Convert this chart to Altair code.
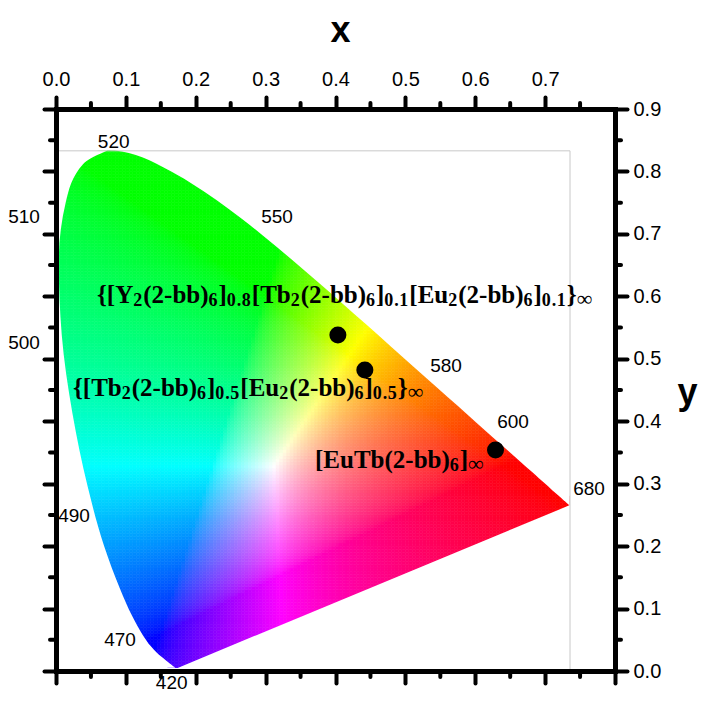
import altair as alt
import numpy as np
import pandas as pd

# ---------------- data ----------------
# CIE 1931 2-degree spectral locus (wavelength nm, x, y)
wl = list(range(380, 705, 5))
loc_x = [0.1741, 0.1740, 0.1738, 0.1736, 0.1733, 0.1730, 0.1726, 0.1721, 0.1714, 0.1703,
         0.1689, 0.1669, 0.1644, 0.1611, 0.1566, 0.1510, 0.1440, 0.1355, 0.1241, 0.1096,
         0.0913, 0.0687, 0.0454, 0.0235, 0.0082, 0.0039, 0.0139, 0.0389, 0.0743, 0.1142,
         0.1547, 0.1929, 0.2296, 0.2658, 0.3016, 0.3373, 0.3731, 0.4087, 0.4441, 0.4788,
         0.5125, 0.5448, 0.5752, 0.6029, 0.6270, 0.6482, 0.6658, 0.6801, 0.6915, 0.7006,
         0.7079, 0.7140, 0.7190, 0.7230, 0.7260, 0.7283, 0.7300, 0.7311, 0.7320, 0.7327,
         0.7334, 0.7340, 0.7344, 0.7346, 0.7347]
loc_y = [0.0050, 0.0050, 0.0049, 0.0049, 0.0048, 0.0048, 0.0048, 0.0048, 0.0051, 0.0058,
         0.0069, 0.0086, 0.0109, 0.0138, 0.0177, 0.0227, 0.0297, 0.0399, 0.0578, 0.0868,
         0.1327, 0.2007, 0.2950, 0.4127, 0.5384, 0.6548, 0.7502, 0.8120, 0.8338, 0.8262,
         0.8059, 0.7816, 0.7543, 0.7243, 0.6923, 0.6589, 0.6245, 0.5896, 0.5547, 0.5202,
         0.4866, 0.4544, 0.4242, 0.3965, 0.3725, 0.3514, 0.3340, 0.3197, 0.3083, 0.2993,
         0.2920, 0.2859, 0.2809, 0.2770, 0.2740, 0.2717, 0.2700, 0.2689, 0.2680, 0.2673,
         0.2666, 0.2660, 0.2656, 0.2654, 0.2653]

# measured colour coordinates of the three samples
pt_x = [0.4034, 0.442, 0.629]
pt_y = [0.538, 0.482, 0.354]

# wavelength annotations
wl_text = ["520", "510", "550", "500", "580", "600", "680", "490", "470", "420"]
wl_tx = [0.0826, -0.0458, 0.3163, -0.0458, 0.5581, 0.6540, 0.7628, 0.0258, 0.0916, 0.1656]
wl_ty = [0.8477, 0.7271, 0.7271, 0.5253, 0.4885, 0.3980, 0.2907, 0.2482, 0.0496, -0.0192]

# image frame of the colour background
frame_x0 = [0.0]
frame_y0 = [0.0]
frame_x = [0.7356]
frame_y = [0.8330]

# compound labels: (anchor x, anchor y, segments)  m = main, s = subscript, i = infinity
lab_x = [0.0587, 0.0243, 0.3707]
lab_y = [0.589, 0.4404, 0.325]
lab_segs = [
    [("{[Y", "m"), ("2", "s"), ("(2-bb)", "m"), ("6", "s"), ("]", "m"), ("0.8", "s"),
     ("[Tb", "m"), ("2", "s"), ("(2-bb)", "m"), ("6", "s"), ("]", "m"), ("0.1", "s"),
     ("[Eu", "m"), ("2", "s"), ("(2-bb)", "m"), ("6", "s"), ("]", "m"), ("0.1", "s"),
     ("}", "m"), ("\u221e", "i")],
    [("{[Tb", "m"), ("2", "s"), ("(2-bb)", "m"), ("6", "s"), ("]", "m"), ("0.5", "s"),
     ("[Eu", "m"), ("2", "s"), ("(2-bb)", "m"), ("6", "s"), ("]", "m"), ("0.5", "s"),
     ("}", "m"), ("\u221e", "i")],
    [("[EuTb(2-bb)", "m"), ("6", "s"), ("]", "m"), ("\u221e", "i")],
]

x_major_top = [round(i * 0.1, 1) for i in range(8)]
x_major_bot = [round(i * 0.1, 1) for i in range(9)]
y_major = [round(i * 0.1, 1) for i in range(10)]
x_minor = [round(0.05 + i * 0.1, 2) for i in range(8)]
y_minor = [round(0.05 + i * 0.1, 2) for i in range(9)]

# ---------------- layout constants ----------------
W, H = 559, 562
XD = [0, 0.8]
YD = [0, 0.9]
S_MAIN, S_SUB, S_INF = 25, 18, 22
SUB_ADV = 20          # advance size used for subscript characters
SERIF = "Liberation Serif"
SANS = "Liberation Sans"
GAMMA = 1.6

xs = alt.Scale(domain=XD, nice=False, zero=False)
ys = alt.Scale(domain=YD, nice=False, zero=False)

# ---------------- colour background ----------------
vx, vy = np.array(loc_x), np.array(loc_y)


def inside_poly(px, py):
    res = np.zeros(px.shape, bool)
    j = len(vx) - 1
    for i in range(len(vx)):
        xi, yi, xj, yj = vx[i], vy[i], vx[j], vy[j]
        cond = ((yi > py) != (yj > py)) & (px < (xj - xi) * (py - yi) / (yj - yi + 1e-12) + xi)
        res ^= cond
        j = i
    return res


step = 0.005
gx, gy = np.meshgrid(np.arange(step / 2, 0.745, step), np.arange(step / 2, 0.845, step))
px, py = gx.ravel(), gy.ravel()
keep = np.zeros(px.shape, bool)
for ox in (-step, 0, step):
    for oy in (-step, 0, step):
        keep |= inside_poly(px + ox, py + oy)
px, py = px[keep], py[keep]
X = px / py
Z = (1 - px - py) / py
r = 3.2406 * X - 1.5372 - 0.4986 * Z
g = -0.9689 * X + 1.8758 + 0.0415 * Z
b = 0.0557 * X - 0.2040 + 1.0570 * Z
rgb = np.clip(np.stack([r, g, b], 1), 0, None)
rgb = rgb / rgb.max(1, keepdims=True)
rgb = rgb ** (1 / GAMMA)
rgb = np.clip(np.round(rgb * 255), 0, 255).astype(int)
cols = ["#%02x%02x%02x" % tuple(c) for c in rgb]
cells = pd.DataFrame({"x": np.round(px, 4), "y": np.round(py, 4), "c": cols})

AX_COMMON = dict(tickSize=12, tickWidth=4, tickCap="round", tickColor="black",
                 domainWidth=5, domainColor="black", domainCap="square", grid=False,
                 zindex=1)

bg = alt.Chart(cells).transform_calculate(
    x0=f"datum.x - {step/2}", x1=f"datum.x + {step/2}",
    y0=f"datum.y - {step/2}", y1=f"datum.y + {step/2}",
).mark_rect(strokeWidth=0.6).encode(
    x=alt.X("x0:Q", scale=xs, axis=alt.Axis(
        orient="top", values=x_major_top, format=".1f", title="x",
        titleFont=SANS, titleFontSize=36, titleFontWeight="bold", titleColor="black",
        titleX=284, titleY=-68, titleAlign="center", titleBaseline="alphabetic", titleAngle=0,
        labelFont=SANS, labelFontSize=20, labelColor="black", labelPadding=8,
        labelFlush=False, labelOverlap=False, **AX_COMMON)),
    x2="x1:Q",
    y=alt.Y("y0:Q", scale=ys, axis=alt.Axis(
        orient="right", values=y_major, format=".1f", title="y",
        titleFont=SANS, titleFontSize=36, titleFontWeight="bold", titleColor="black",
        titleX=72, titleY=294, titleAlign="center", titleBaseline="alphabetic", titleAngle=0,
        labelFont=SANS, labelFontSize=20, labelColor="black", labelPadding=6,
        labelFlush=False, labelOverlap=False, **AX_COMMON)),
    y2="y1:Q",
    fill=alt.Color("c:N", scale=None),
    stroke=alt.Color("c:N", scale=None),
)

# white masks giving the locus a smooth outline
i420, i520 = wl.index(420), wl.index(520)
left_df = pd.DataFrame({"x": loc_x[i420:i520 + 1], "y": loc_y[i420:i520 + 1], "z": 0.0})
top_df = pd.DataFrame({"x": [-0.005] + loc_x[i520:], "y": [loc_y[i520]] + loc_y[i520:],
                       "z": 0.85})
bot_df = pd.DataFrame({"x": [-0.005, loc_x[0], loc_x[-1], 0.75],
                       "y": [loc_y[0], loc_y[0], loc_y[-1], loc_y[-1]], "z": 0.0})
right_df = pd.DataFrame({"x": [loc_x[-1]], "x2": [0.75], "y": [0.0], "y2": [0.85]})

mask_left = alt.Chart(left_df).mark_area(
    orient="horizontal", color="white", opacity=1, interpolate="monotone").encode(
    y=alt.Y("y:Q", scale=ys, axis=None), x=alt.X("x:Q", scale=xs, axis=None), x2="z:Q")
mask_top = alt.Chart(top_df).mark_area(
    orient="vertical", color="white", opacity=1, interpolate="monotone").encode(
    x=alt.X("x:Q", scale=xs, axis=None), y=alt.Y("y:Q", scale=ys, axis=None), y2="z:Q")
mask_bot = alt.Chart(bot_df).mark_area(orient="vertical", color="white", opacity=1).encode(
    x=alt.X("x:Q", scale=xs, axis=None), y=alt.Y("y:Q", scale=ys, axis=None), y2="z:Q")
mask_right = alt.Chart(right_df).mark_rect(color="white", opacity=1).encode(
    x=alt.X("x:Q", scale=xs, axis=None), x2="x2:Q",
    y=alt.Y("y:Q", scale=ys, axis=None), y2="y2:Q")

# frame lines
frame_df = pd.DataFrame({"fx0": frame_x0, "fy0": frame_y0, "fx": frame_x, "fy": frame_y})
frame_h = alt.Chart(frame_df).mark_rule(color="#c8c8c8", strokeWidth=1).encode(
    x=alt.X("fx0:Q", scale=xs, axis=None), x2="fx:Q", y=alt.Y("fy:Q", scale=ys, axis=None))
frame_v = alt.Chart(frame_df).mark_rule(color="#c8c8c8", strokeWidth=1).encode(
    x=alt.X("fx:Q", scale=xs, axis=None), y=alt.Y("fy0:Q", scale=ys, axis=None), y2="fy:Q")

# points (carry bottom / left axes)
pts = alt.Chart(pd.DataFrame({"x": pt_x, "y": pt_y})).mark_circle(
    size=290, color="black", opacity=1).encode(
    x=alt.X("x:Q", scale=xs, axis=alt.Axis(
        orient="bottom", values=x_major_bot, labels=False, title=None, **AX_COMMON)),
    y=alt.Y("y:Q", scale=ys, axis=alt.Axis(
        orient="left", values=y_major, labels=False, title=None, **AX_COMMON)),
)


# minor ticks
def minor(vals, along, side):
    df = pd.DataFrame({"v": vals})
    m = alt.Chart(df).mark_rule(color="black", strokeWidth=4, strokeCap="round")
    if along == "x":
        p0, p1 = (0, -6) if side == "top" else (H, H + 6)
        return m.encode(x=alt.X("v:Q", scale=xs, axis=None), y=alt.value(p0), y2=alt.value(p1))
    p0, p1 = (0, -6) if side == "left" else (W, W + 6)
    return m.encode(y=alt.Y("v:Q", scale=ys, axis=None), x=alt.value(p0), x2=alt.value(p1))


minors = [minor(x_minor, "x", "top"), minor(x_minor, "x", "bottom"),
          minor(y_minor, "y", "left"), minor(y_minor, "y", "right")]

# wavelength labels
wl_df = pd.DataFrame({"t": wl_text, "x": wl_tx, "y": wl_ty})
wl_layer = alt.Chart(wl_df).mark_text(
    font=SANS, fontSize=19, color="black", align="center", baseline="middle").encode(
    x=alt.X("x:Q", scale=xs, axis=None), y=alt.Y("y:Q", scale=ys, axis=None), text="t:N")

# compound labels laid out segment by segment
WIDTH = {"{": 0.394, "}": 0.394, "[": 0.333, "]": 0.333, "(": 0.333, ")": 0.333,
         "-": 0.333, ".": 0.25, "Y": 0.722, "T": 0.667, "E": 0.667, "b": 0.556,
         "u": 0.556, "\u221e": 0.713}
px_per_x = W / (XD[1] - XD[0])
rows = []
for ax, ay, segs in zip(lab_x, lab_y, lab_segs):
    off = 0.0
    for text, kind in segs:
        if kind == "s":
            for ch in text:
                rows.append({"t": ch, "k": kind, "x": ax + off / px_per_x, "y": ay})
                off += WIDTH.get(ch, 0.5) * SUB_ADV
        else:
            rows.append({"t": text, "k": kind, "x": ax + off / px_per_x, "y": ay})
            size = S_MAIN if kind == "m" else S_INF
            off += sum(WIDTH.get(ch, 0.5) for ch in text) * size
seg_df = pd.DataFrame(rows)


def seg_layer(kind, size, weight, dy):
    return alt.Chart(seg_df[seg_df.k == kind]).mark_text(
        font=SERIF, fontSize=size, fontWeight=weight, color="black",
        align="left", baseline="alphabetic", dy=dy).encode(
        x=alt.X("x:Q", scale=xs, axis=None), y=alt.Y("y:Q", scale=ys, axis=None), text="t:N")


labels = [seg_layer("m", S_MAIN, "bold", 0), seg_layer("s", S_SUB, "bold", 3),
          seg_layer("i", S_INF, "normal", 3)]

chart = alt.layer(bg, mask_left, mask_top, mask_bot, mask_right, frame_h, frame_v,
                  *minors, wl_layer, pts, *labels).resolve_axis(
    x="independent", y="independent").properties(
    width=W, height=H,
    padding={"left": 48, "top": 101, "right": 84, "bottom": 22},
    autosize=alt.AutoSizeParams(type="none"),
).configure_view(stroke=None)

chart.save("out.html", embed_options={"renderer": "svg", "actions": False})
